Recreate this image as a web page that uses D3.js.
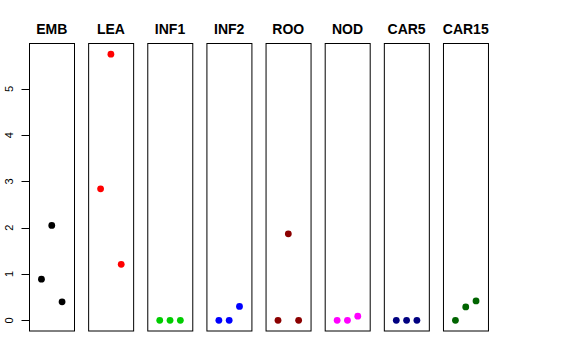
<!DOCTYPE html>
<html>
<head>
<meta charset="utf-8">
<script src="https://cdn.jsdelivr.net/npm/d3@7"></script>
<style>
  body { margin: 0; background: #fff; }
  svg { display: block; font-family: "Liberation Sans", Arial, sans-serif; }
</style>
</head>
<body>
<div id="chart"></div>
<script>
// one panel per tissue, three observations each
var tissues = ['EMB', 'LEA', 'INF1', 'INF2', 'ROO', 'NOD', 'CAR5', 'CAR15'];
var colors = ['#000000', '#ff0000', '#00cd00', '#0000ff', '#8b0000', '#ff00ff', '#000080', '#006400'];
var rep = [1, 2, 3];
var EMB = [0.89, 2.05, 0.40];
var LEA = [2.84, 5.75, 1.21];
var INF1 = [0, 0, 0];
var INF2 = [0, 0, 0.30];
var ROO = [0, 1.87, 0];
var NOD = [0, 0, 0.09];
var CAR5 = [0, 0, 0];
var CAR15 = [0, 0.29, 0.42];
var values = [EMB, LEA, INF1, INF2, ROO, NOD, CAR5, CAR15];
var yTicks = [0, 1, 2, 3, 4, 5];

// note: "top" is taken by window.top, so use plotTop / plotBottom
var w = 576, h = 360
  , plotTop = 43.5, plotBottom = 331
  , ymax = d3.max(values, function (v) { return d3.max(v); })
  , ypad = ymax * 0.04;

var svg = d3.select('#chart').append('svg')
  .attr('width', w)
  .attr('height', h);

var panel = d3.scaleBand()
  .domain(tissues)
  .range([29.5, 488])
  .paddingInner(0.247);

var y = d3.scaleLinear()
  .domain([-ypad, ymax + ypad])
  .range([plotBottom, plotTop]);

var x = d3.scaleLinear()
  .domain([-0.16, 4.16])
  .range([0, panel.bandwidth()]);

var g = svg.selectAll('g.panel')
  .data(tissues)
  .enter().append('g')
    .attr('class', 'panel')
    .attr('transform', function (d) { return 'translate(' + panel(d) + ',0)'; });

g.append('rect')
  .attr('x', 0)
  .attr('y', plotTop)
  .attr('width', Math.round(panel.bandwidth()))
  .attr('height', plotBottom - plotTop)
  .style('fill', 'none')
  .style('stroke', '#000')
  .style('stroke-width', 1);

g.append('text')
  .attr('x', panel.bandwidth() / 2)
  .attr('y', 34)
  .style('text-anchor', 'middle')
  .style('font-weight', 'bold')
  .style('font-size', '14px')
  .text(function (d) { return d; });

g.selectAll('circle')
  .data(function (d, i) {
    return values[i].map(function (v, j) { return { x: rep[j], y: v, c: colors[i] }; });
  })
  .enter().append('circle')
    .attr('cx', function (d) { return x(d.x); })
    .attr('cy', function (d) { return y(d.y); })
    .attr('r', 3.4)
    .style('fill', function (d) { return d.c; });

// y axis on the first panel only
var axis = svg.append('g')
  .attr('transform', 'translate(' + panel(tissues[0]) + ',0)');

axis.selectAll('line')
  .data(yTicks)
  .enter().append('line')
    .attr('x1', -8)
    .attr('x2', 0)
    .attr('y1', function (d) { return Math.round(y(d)) + 0.5; })
    .attr('y2', function (d) { return Math.round(y(d)) + 0.5; })
    .style('stroke', '#000');

axis.selectAll('text')
  .data(yTicks)
  .enter().append('text')
    .attr('transform', function (d) { return 'translate(-17,' + y(d) + ') rotate(-90)'; })
    .style('text-anchor', 'middle')
    .style('font-size', '11px')
    .text(function (d) { return d; });
</script>
</body>
</html>
